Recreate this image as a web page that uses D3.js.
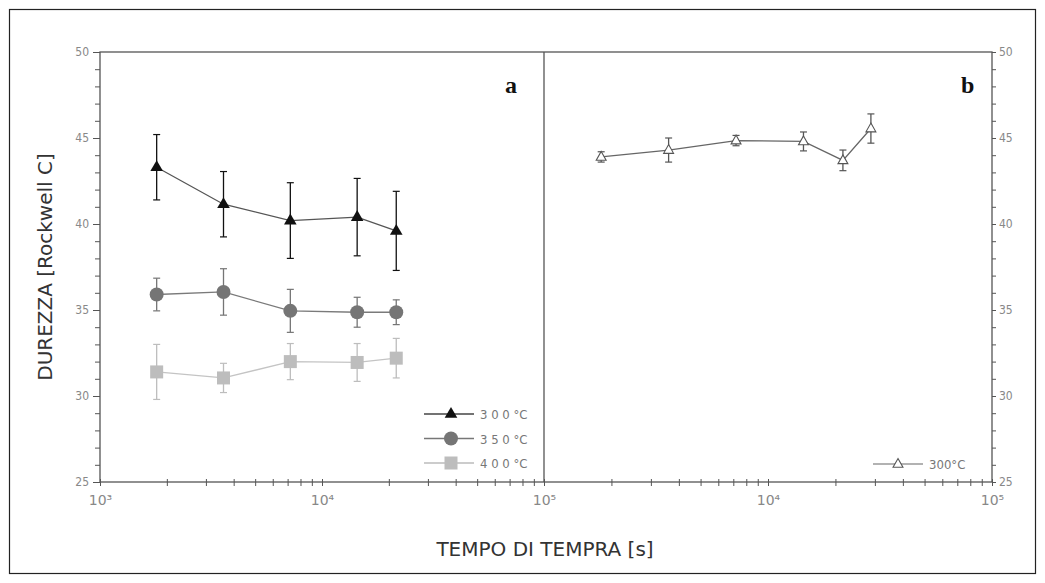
<!DOCTYPE html>
<html><head><meta charset="utf-8">
<script src="https://cdn.jsdelivr.net/npm/d3@7"></script>
<style>body{margin:0;background:#fff}svg{display:block}</style>
</head><body>
<svg id="c" width="1045" height="583"></svg>
<script>
// ---- data ----
const timesA = [1800, 3600, 7200, 14400, 21600];
const hard300 = [43.3, 41.15, 40.2, 40.4, 39.6];
const err300 = [1.9, 1.9, 2.2, 2.25, 2.3];
const hard350 = [35.9, 36.05, 34.95, 34.87, 34.87];
const err350 = [0.95, 1.35, 1.25, 0.87, 0.72];
const hard400 = [31.4, 31.05, 32.0, 31.95, 32.2];
const err400 = [1.6, 0.85, 1.05, 1.1, 1.15];
const timesB = [1800, 3600, 7200, 14400, 21600, 28800];
const hardB300 = [43.9, 44.3, 44.85, 44.8, 43.7, 45.55];
const errB300 = [0.3, 0.7, 0.3, 0.55, 0.6, 0.85];
const yTicks = [25, 30, 35, 40, 45, 50];
const xTickLabelsA = ["10³", "10⁴", "10⁵"];
const xTickLabelsB = ["", "10⁴", "10⁵"];
const legendA = ["3 0 0 °C", "3 5 0 °C", "4 0 0 °C"];
const legendB = ["300°C"];

(function () {
const svg = d3.select("#c");
// outer frame
svg.append("rect").attr("x", 9.5).attr("y", 9.5).attr("width", 1026).attr("height", 564)
  .attr("fill", "none").attr("stroke", "#222").attr("stroke-width", 1.2);

const pTop = 52, pBot = 482;
const y = d3.scaleLinear().domain([25, 50]).range([pBot, pTop]);
const xA = d3.scaleLog().domain([1e3, 1e5]).range([100, 544]);
const xB = d3.scaleLog().domain([1e3, 1e5]).range([544, 992]);
const axisCol = "#555";
const tickTxt = "#888";

// frame of plot area
svg.append("rect").attr("x", 100).attr("y", pTop).attr("width", 892).attr("height", pBot - pTop)
  .attr("fill", "none").attr("stroke", axisCol).attr("stroke-width", 1.3);
svg.append("line").attr("x1", 544).attr("x2", 544).attr("y1", pTop).attr("y2", pBot)
  .attr("stroke", axisCol).attr("stroke-width", 1.3);

// y axes
const minorY = d3.range(25, 51, 1);
const yl = d3.axisLeft(y).tickValues(minorY).tickSize(5).tickFormat(d => yTicks.includes(d) ? d : "");
const gyl = svg.append("g").attr("transform", "translate(100,0)").call(yl);
const yr = d3.axisRight(y).tickValues(minorY).tickSize(4).tickFormat(d => yTicks.includes(d) ? d : "");
const gyr = svg.append("g").attr("transform", "translate(992,0)").call(yr);
[gyl, gyr].forEach(g => {
  g.select(".domain").remove();
  g.selectAll("line").attr("stroke", axisCol);
  g.selectAll("text").attr("fill", tickTxt).attr("font-family", "DejaVu Sans Condensed, DejaVu Sans, sans-serif").attr("font-size", 12);
});
gyl.selectAll(".tick").each(function (d) {
  if (yTicks.includes(d)) d3.select(this).select("line").attr("x2", -7);
});
gyl.selectAll("text").attr("x", -11);
gyr.selectAll("text").attr("x", 7);

// x axes
function minorTicks() {
  const t = [];
  for (let e = 3; e < 5; e++) for (let m = 1; m < 10; m++) t.push(m * Math.pow(10, e));
  t.push(1e5);
  return t;
}
[[xA, xTickLabelsA], [xB, xTickLabelsB]].forEach(([sc, labs]) => {
  const ax = d3.axisBottom(sc).tickValues(minorTicks()).tickSize(4)
    .tickFormat(d => { const i = [1e3, 1e4, 1e5].indexOf(d); return i >= 0 ? labs[i] : ""; });
  const g = svg.append("g").attr("transform", `translate(0,${pBot})`).call(ax);
  g.select(".domain").remove();
  g.selectAll("line").attr("stroke", axisCol).attr("y1", -3);
  g.selectAll("text").attr("fill", tickTxt).attr("font-family", "DejaVu Sans, sans-serif").attr("font-size", 14).attr("y", 13);
});

// axis titles
svg.append("text").attr("transform", `translate(52,${(pTop + pBot) / 2}) rotate(-90)`)
  .attr("text-anchor", "middle").attr("font-family", "DejaVu Sans, sans-serif").attr("font-size", 20)
  .attr("fill", "#333").text("DUREZZA [Rockwell C]");
svg.append("text").attr("x", 545).attr("y", 556).attr("text-anchor", "middle")
  .attr("font-family", "DejaVu Sans, sans-serif").attr("font-size", 20).attr("fill", "#333")
  .text("TEMPO DI TEMPRA [s]");

// panel labels
svg.append("text").attr("x", 505).attr("y", 93).attr("font-family", "Liberation Serif, serif").attr("font-weight", "bold")
  .attr("font-size", 24).attr("fill", "#111").text("a");
svg.append("text").attr("x", 961).attr("y", 93).attr("font-family", "Liberation Serif, serif").attr("font-weight", "bold")
  .attr("font-size", 24).attr("fill", "#111").text("b");

// markers
function marker(g, type, cx, cy, col) {
  if (type === "tri") {
    const s = 7;
    g.append("path").attr("d", `M${cx},${cy - s}L${cx + s * 0.9},${cy + s * 0.55}L${cx - s * 0.9},${cy + s * 0.55}Z`)
      .attr("fill", col);
  } else if (type === "circ") {
    g.append("circle").attr("cx", cx).attr("cy", cy).attr("r", 7).attr("fill", col);
  } else if (type === "sq") {
    g.append("rect").attr("x", cx - 6.5).attr("y", cy - 6.5).attr("width", 13).attr("height", 13).attr("fill", col);
  } else if (type === "otri") {
    const s = 5.5;
    g.append("path").attr("d", `M${cx},${cy - s}L${cx + s * 0.9},${cy + s * 0.6}L${cx - s * 0.9},${cy + s * 0.6}Z`)
      .attr("fill", "#fff").attr("stroke", col).attr("stroke-width", 1.1);
  }
}

function series(xs, sc, vals, errs, type, col, lineCol) {
  const g = svg.append("g");
  const pts = xs.map((t, i) => [sc(t), y(vals[i])]);
  g.append("path").attr("d", d3.line()(pts)).attr("fill", "none").attr("stroke", lineCol).attr("stroke-width", 1.3);
  xs.forEach((t, i) => {
    const cx = sc(t);
    const y1 = y(vals[i] + errs[i]), y2 = y(vals[i] - errs[i]);
    g.append("line").attr("x1", cx).attr("x2", cx).attr("y1", y1).attr("y2", y2).attr("stroke", col).attr("stroke-width", 1.3);
    [y1, y2].forEach(yy => g.append("line").attr("x1", cx - 3.5).attr("x2", cx + 3.5).attr("y1", yy).attr("y2", yy)
      .attr("stroke", col).attr("stroke-width", 1.2));
    marker(g, type, cx, y(vals[i]), col);
  });
}
series(timesA, xA, hard400, err400, "sq", "#bdbdbd", "#c4c4c4");
series(timesA, xA, hard350, err350, "circ", "#757575", "#7a7a7a");
series(timesA, xA, hard300, err300, "tri", "#111", "#555");
series(timesB, xB, hardB300, errB300, "otri", "#555", "#666");

// legends
const legTypes = [["tri", "#111", "#444"], ["circ", "#757575", "#777"], ["sq", "#bdbdbd", "#bbb"]];
legendA.forEach((lab, i) => {
  const ly = 414 + i * 24.5;
  const g = svg.append("g");
  g.append("line").attr("x1", 424).attr("x2", 474).attr("y1", ly).attr("y2", ly).attr("stroke", legTypes[i][2]).attr("stroke-width", 1.3);
  marker(g, legTypes[i][0], 451, ly, legTypes[i][1]);
  g.append("text").attr("x", 480).attr("y", ly + 5).attr("font-family", "DejaVu Sans Condensed, DejaVu Sans, sans-serif")
    .attr("font-size", 13).attr("fill", "#777").text(lab);
});
legendB.forEach(lab => {
  const ly = 464;
  const g = svg.append("g");
  g.append("line").attr("x1", 873).attr("x2", 923).attr("y1", ly).attr("y2", ly).attr("stroke", "#666").attr("stroke-width", 1.1);
  marker(g, "otri", 898, ly, "#555");
  g.append("text").attr("x", 929).attr("y", ly + 5).attr("font-family", "DejaVu Sans Condensed, DejaVu Sans, sans-serif")
    .attr("font-size", 13).attr("fill", "#777").text(lab);
});
})();
</script>
</body></html>
